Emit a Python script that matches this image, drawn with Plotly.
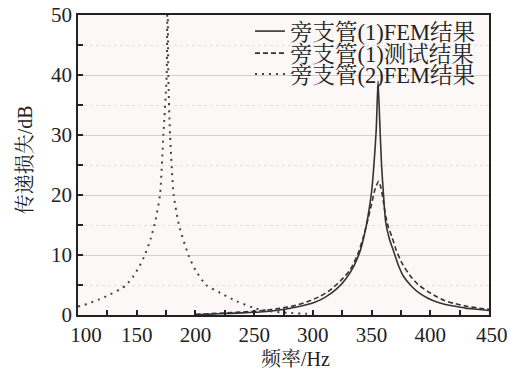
import plotly.graph_objects as go

# 旁支管(1) FEM 结果
fem1_hz = [200, 220, 240, 255, 270, 285, 300, 310, 320, 328, 335, 340, 344, 347, 350, 352, 354, 355.5,
           357, 358.5, 360, 362, 365, 369, 373, 377, 384, 391, 398, 405, 412, 420, 430, 440, 450]
fem1_db = [0.05, 0.2, 0.35, 0.5, 0.8, 1.3, 2.0, 2.9, 4.3, 6.0, 8.2, 10.5, 13.5, 16.5, 20.5, 25, 31, 39,
           32, 25, 20.5, 15.5, 12.8, 10.5, 8.2, 6.5, 4.8, 3.6, 2.8, 2.2, 1.8, 1.5, 1.15, 0.95, 0.75]

# 旁支管(1) 测试结果
test1_hz = [200, 220, 240, 255, 272, 285, 295, 305, 315, 323, 331.7, 338, 343, 347, 350, 353, 356,
            358, 360, 362, 364.5, 367.4, 371, 376, 383, 390, 398, 405.5, 412, 420, 430, 445, 450]
test1_db = [0.1, 0.3, 0.5, 0.7, 1.1, 1.6, 2.2, 3.0, 4.2, 5.6, 7.5, 10, 13, 16, 18.5, 21, 22.3,
            21.2, 19, 16.5, 14.5, 13, 10.8, 8.6, 6.5, 5.0, 3.9, 3.05, 2.4, 1.95, 1.5, 1.05, 0.95]

# 旁支管(2) FEM 结果
fem2_hz = [100, 104, 110, 118, 126, 136, 141, 147, 152, 157, 162, 166, 169.8, 172.7, 175.5, 176.2,
           176.9, 178.4, 181.5, 186, 194, 200, 209, 221, 235, 251, 265, 280, 295]
fem2_db = [1.4, 1.6, 2.0, 2.6, 3.3, 4.3, 5.0, 6.4, 8.0, 10, 12.8, 15.8, 20, 30, 40, 60,
           40, 30, 20, 15, 10, 7.5, 5.0, 3.7, 2.3, 1.1, 0.6, 0.35, 0.2]

x_ticks = [100, 150, 200, 250, 300, 350, 400, 450]
x_tick_text = ["\u00a0\u00a0\u00a0100", "150", "200", "250", "300", "350", "400", "\u00a0450"]
y_ticks = [0, 10, 20, 30, 40, 50]

names = ["旁支管(1)FEM结果", "旁支管(1)测试结果", "旁支管(2)FEM结果"]

FONT = "Liberation Serif, Times New Roman, Noto Serif CJK SC, Noto Sans CJK SC, serif"
LC = "#333333"

fig = go.Figure()
fig.add_trace(go.Scatter(x=fem1_hz, y=fem1_db, mode="lines", name=names[0], legend="legend",
                         line=dict(color=LC, width=1.6, shape="spline", smoothing=0.6)))
fig.add_trace(go.Scatter(x=test1_hz, y=test1_db, mode="lines", name=names[1], legend="legend2",
                         line=dict(color=LC, width=1.6, dash="5px,3px", shape="spline", smoothing=0.6)))
fig.add_trace(go.Scatter(x=fem2_hz, y=fem2_db, mode="lines", name=names[2], legend="legend3",
                         line=dict(color="#444", width=2, dash="2px,5px", shape="spline", smoothing=0.6)))

def leg(y):
    return dict(x=0.4185, y=y, xanchor="left", yanchor="top", yref="container", borderwidth=0,
                bgcolor="rgba(0,0,0,0)", font=dict(size=22.5, family=FONT, color="#222"),
                itemwidth=30)

fig.update_layout(
    width=509, height=372,
    margin=dict(l=78, r=20, t=15, b=57, autoexpand=False),
    paper_bgcolor="white",
    plot_bgcolor="#fcf8f8",
    font=dict(family=FONT, size=20, color="#222"),
    showlegend=True,
    legend=leg(0.9732), legend2=leg(0.9140), legend3=leg(0.8576),
    xaxis=dict(range=[100, 450], tickvals=x_ticks, ticktext=x_tick_text, automargin=False,
               ticklabeloverflow="allow",
               ticks="inside", ticklen=5, tickcolor="#222", tickwidth=1.5,
               showline=True, linecolor="#222", linewidth=1.5, mirror=True,
               showgrid=False, zeroline=False,
               minor=dict(dtick=25, tick0=100, ticks="inside", ticklen=5, tickcolor="#222", showgrid=False),
               tickfont=dict(size=21, family=FONT)),
    yaxis=dict(range=[0, 50], tickvals=y_ticks, automargin=False,
               ticks="inside", ticklen=5, tickcolor="#222", tickwidth=1.5,
               showline=True, linecolor="#222", linewidth=1.5, mirror=True,
               showgrid=True, gridcolor="#d8d0c8", gridwidth=1.3, zeroline=False,
               minor=dict(dtick=5, tick0=0, ticks="inside", ticklen=5, tickcolor="#222",
                          showgrid=True, gridcolor="#e6e0dc", griddash="dot", gridwidth=1),
               tickfont=dict(size=21, family=FONT)),
    annotations=[
        dict(text="频率/Hz", xref="paper", yref="paper", x=0.53, y=-0.147,
             showarrow=False, font=dict(size=20, family=FONT, color="#222"),
             xanchor="center", yanchor="middle"),
        dict(text="传递损失/dB", xref="paper", yref="paper", x=-0.128, y=0.517,
             showarrow=False, textangle=-90, font=dict(size=20, family=FONT, color="#222"),
             xanchor="center", yanchor="middle"),
    ],
)

fig.write_html("out.html", config={"displayModeBar": False},
               post_script="document.body.style.margin='0px';document.body.style.overflow='hidden';")
